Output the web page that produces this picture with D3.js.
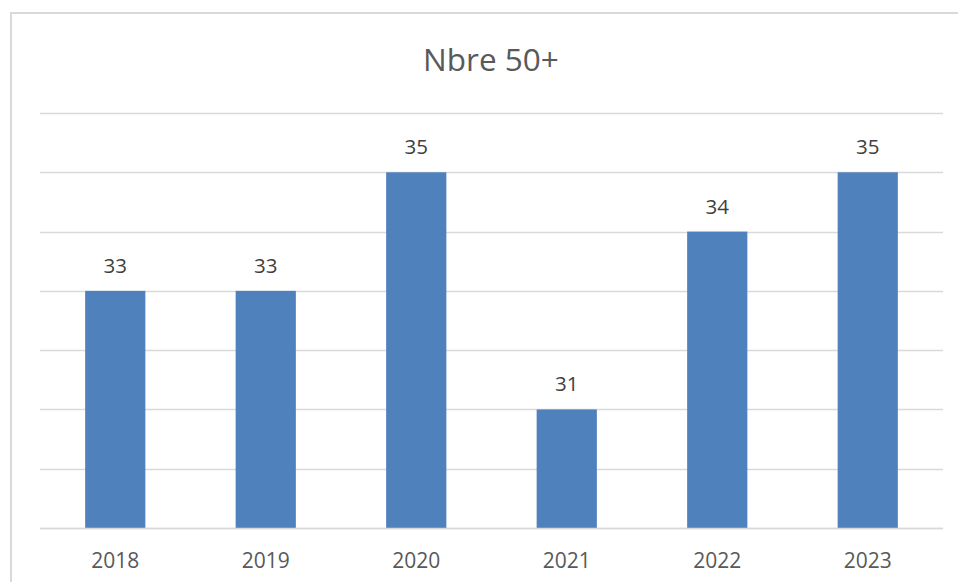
<!DOCTYPE html>
<html><head><meta charset="utf-8">
<script src="https://cdn.jsdelivr.net/npm/d3@7"></script>
<style>html,body{margin:0;padding:0;background:#fff;overflow:hidden}</style>
</head><body><svg id="c" width="958" height="582"></svg>
<script>
const title = "Nbre 50+";
const categories = ["2018","2019","2020","2021","2022","2023"];
const values = [33,33,35,31,34,35];
const yTicks = [29,30,31,32,33,34,35,36];

(function(){
const svg = d3.select("#c");
const font = "'Open Sans', 'Noto Sans', sans-serif";
const textColor = "#595959";

svg.append("rect").attr("x",11).attr("y",13).attr("width",960).attr("height",600)
  .attr("fill","none").attr("stroke","#d9d9d9").attr("stroke-width",2);

const mLeft = 40, mRight = 943, mTop = 113, mBottom = 528;
const x = d3.scaleBand().domain(categories).range([mLeft,mRight]).paddingInner(0).paddingOuter(0);
const y = d3.scaleLinear().domain([29,36]).range([mBottom,mTop]);

svg.append("g").selectAll("line").data(yTicks).join("line")
  .attr("x1",mLeft).attr("x2",mRight)
  .attr("y1",d=>Math.round(y(d))+0.5).attr("y2",d=>Math.round(y(d))+0.5)
  .attr("stroke","#d9d9d9").attr("stroke-width",1.5);

const bw = x.bandwidth()*0.4;
svg.append("g").selectAll("rect").data(values).join("rect")
  .attr("x",(d,i)=>x(categories[i])+x.bandwidth()/2-bw/2)
  .attr("width",bw)
  .attr("y",d=>y(d))
  .attr("height",d=>y(29)-y(d))
  .attr("fill","#4f81bd");

svg.append("line").attr("x1",mLeft).attr("x2",mRight)
  .attr("y1",Math.round(y(29))+0.5).attr("y2",Math.round(y(29))+0.5)
  .attr("stroke","#d9d9d9").attr("stroke-width",1.5);

svg.append("g").selectAll("text").data(values).join("text")
  .attr("x",(d,i)=>x(categories[i])+x.bandwidth()/2)
  .attr("y",d=>y(d)-18)
  .attr("text-anchor","middle")
  .attr("font-family",font).attr("font-size",20.5).attr("fill","#404040")
  .text(d=>d);

const xAxis = d3.axisBottom(x).tickSize(0).tickPadding(0);
const gx = svg.append("g").attr("transform",`translate(0,${mBottom})`).call(xAxis);
gx.select(".domain").remove();
gx.selectAll("text").attr("font-family",font).attr("font-size",21).attr("fill",textColor)
  .attr("dy",null).attr("y",40);

svg.append("text").attr("x",491).attr("y",71).attr("text-anchor","middle")
  .attr("font-family",font).attr("font-size",31.5).attr("fill",textColor).text(title);
})();
</script></body></html>
